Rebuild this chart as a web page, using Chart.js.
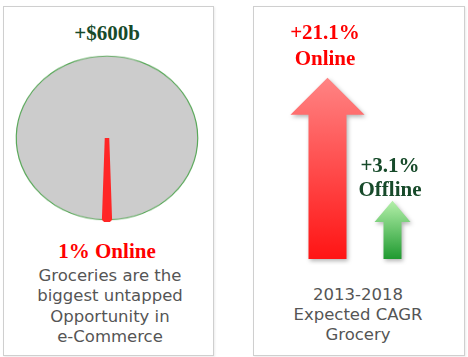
<!DOCTYPE html>
<html><head><meta charset="utf-8">
<script src="https://cdn.jsdelivr.net/npm/chart.js@4"></script>
<style>
html,body{margin:0;padding:0;background:#fff;width:468px;height:357px;overflow:hidden;position:relative;}
.panel{position:absolute;border:1px solid #cfcfcf;box-sizing:border-box;box-shadow:1px 1px 2px rgba(0,0,0,0.08);}
.t{position:absolute;text-align:center;white-space:nowrap;}
.serif{font-family:"Liberation Serif","Times New Roman",serif;font-weight:bold;font-size:21px;}
.sans{font-family:"DejaVu Sans",Verdana,sans-serif;font-size:16.5px;color:#555;}
</style></head>
<body>
<div class="panel" style="left:3px;top:6px;width:211px;height:350px;"></div>
<div class="panel" style="left:253px;top:6px;width:212px;height:350px;"></div>

<div id="pieWrap" style="position:absolute;left:14px;top:54px;width:186px;height:186px;transform:scaleY(0.903);transform-origin:0 0;">
<canvas id="pie" width="186" height="186"></canvas></div>
<div style="position:absolute;left:275px;top:50px;width:170px;height:215px;">
<canvas id="bars" width="170" height="215"></canvas></div>

<div class="t serif" style="left:57px;width:100px;top:23px;line-height:21px;color:#174a2a;">+$600b</div>
<div class="t serif" style="left:40px;width:134px;top:241px;line-height:21px;color:#ff0000;">1% Online</div>
<div class="t sans" style="left:20px;width:180px;top:266px;line-height:20.3px;">Groceries are the<br>biggest untapped<br>Opportunity in<br>e-Commerce</div>

<div class="t serif" style="left:275px;width:100px;top:20px;line-height:25.7px;color:#ff0000;">+21.1%<br>Online</div>
<div class="t serif" style="left:340px;width:100px;top:153px;line-height:24px;color:#174a2a;">+3.1%<br>Offline</div>
<div class="t sans" style="left:268px;width:180px;top:285px;line-height:20px;">2013-2018<br>Expected CAGR<br>Grocery</div>

<script>
// ---- data ----
const pieLabels = ['Offline', 'Online'];
const pieValues = [99, 1];
const cagrLabels = ['Online', 'Offline'];
const cagrValues = [21.1, 3.1];

// pie: put the small "Online" slice centred at the bottom
const total = pieValues.reduce((a, b) => a + b, 0);
const onlineDeg = pieValues[1] / total * 360;
const rot = 180 - (360 - onlineDeg) - onlineDeg / 2;

new Chart(document.getElementById('pie'), {
  type: 'pie',
  data: {
    labels: pieLabels,
    datasets: [{
      data: pieValues,
      backgroundColor: ['#cccccc', '#ff2626'],
      borderColor: ['#5aa85a', '#ff2626'],
      borderWidth: [1.2, 4.5]
    }]
  },
  options: {
    responsive: false, animation: false, rotation: rot,
    layout: { padding: 0 },
    plugins: { legend: { display: false }, tooltip: { enabled: false } }
  }
});

// arrows drawn from the bar elements
const arrowPlugin = {
  id: 'arrows',
  afterDatasetsDraw(chart) {
    const ctx = chart.ctx;
    const bottom = chart.chartArea.bottom;
    chart.data.datasets.forEach((ds, di) => {
      const meta = chart.getDatasetMeta(di);
      meta.data.forEach((bar, i) => {
        if (ds.data[i] == null) return;
        const p = bar.getProps(['x', 'y', 'width'], true);
        const sw = p.width / 2, hw = p.width * ds.headScale / 2, hl = p.width * ds.headLen;
        const x = p.x, y = p.y;
        ctx.save();
        ctx.shadowColor = 'rgba(0,0,0,0.3)';
        ctx.shadowBlur = 4; ctx.shadowOffsetX = 1.5; ctx.shadowOffsetY = 2;
        const g = ctx.createLinearGradient(0, y, 0, bottom);
        g.addColorStop(0, ds.topColor); g.addColorStop(1, ds.bottomColor);
        ctx.fillStyle = g;
        ctx.beginPath();
        ctx.moveTo(x, y);
        ctx.lineTo(x + hw, y + hl);
        ctx.lineTo(x + sw, y + hl);
        ctx.lineTo(x + sw, bottom);
        ctx.lineTo(x - sw, bottom);
        ctx.lineTo(x - sw, y + hl);
        ctx.lineTo(x - hw, y + hl);
        ctx.closePath();
        ctx.fill();
        ctx.restore();
      });
    });
  }
};

new Chart(document.getElementById('bars'), {
  type: 'bar',
  data: {
    labels: cagrLabels,
    datasets: [
      { data: cagrValues.map((v, i) => i === 0 ? v : null), barThickness: 38, grouped: false,
        backgroundColor: 'rgba(0,0,0,0)', topColor: '#ff8484', bottomColor: '#ff1414', headScale: 1.95, headLen: 0.97 },
      { data: cagrValues.map((v, i) => i === 1 ? v : null), barThickness: 18, grouped: false,
        backgroundColor: 'rgba(0,0,0,0)', topColor: '#b4f0aa', bottomColor: '#1f9a30', headScale: 2.0, headLen: 1.17 }
    ]
  },
  options: {
    responsive: false, animation: false,
    layout: { padding: { left: 20, right: 20, top: 10, bottom: 6 } },
    scales: {
      x: { display: false },
      y: { display: false, min: -5.4, max: 23.7 }
    },
    plugins: { legend: { display: false }, tooltip: { enabled: false } }
  },
  plugins: [arrowPlugin]
});
</script>
</body></html>
